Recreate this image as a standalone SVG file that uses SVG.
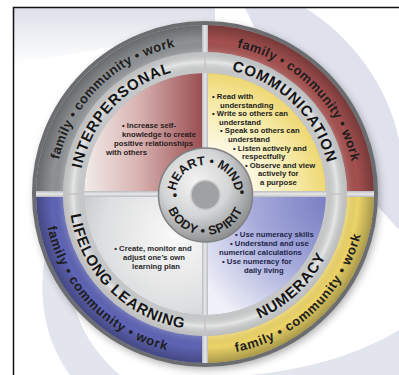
<svg xmlns="http://www.w3.org/2000/svg" width="399" height="375" viewBox="0 0 399 375">
<style>
.band{font-family:"Liberation Sans",Arial,sans-serif;font-weight:bold;font-size:13px;fill:#1e1e1e}
.ring{font-family:"Liberation Sans",Arial,sans-serif;font-weight:bold;font-size:15px;fill:#151515;letter-spacing:0.8px}
.hub{font-family:"Liberation Sans",Arial,sans-serif;font-weight:bold;font-size:12.5px;fill:#1a1a1a}
.q{font-family:"Liberation Sans",Arial,sans-serif;font-weight:bold;font-size:7.7px}
</style>
<defs>
<filter id="sh" x="-20%" y="-20%" width="140%" height="140%"><feGaussianBlur stdDeviation="4"/></filter>
<linearGradient id="bgTop" x1="0" y1="8" x2="0" y2="65" gradientUnits="userSpaceOnUse"><stop offset="0" stop-color="#dde0ea"/><stop offset="1" stop-color="#ffffff"/></linearGradient>
<linearGradient id="gTL" x1="84" y1="0" x2="205" y2="0" gradientUnits="userSpaceOnUse"><stop offset="0" stop-color="#f1ecea"/><stop offset="0.45" stop-color="#d8b3b1"/><stop offset="1" stop-color="#984a4e"/></linearGradient>
<radialGradient id="gTR" cx="205" cy="194" r="121" gradientUnits="userSpaceOnUse"><stop offset="0.35" stop-color="#fdf9e8"/><stop offset="0.75" stop-color="#f6eaa8"/><stop offset="1" stop-color="#eed772"/></radialGradient>
<radialGradient id="gBL" cx="175" cy="235" r="130" gradientUnits="userSpaceOnUse"><stop offset="0" stop-color="#f9f9f9"/><stop offset="0.55" stop-color="#dedfe0"/><stop offset="1" stop-color="#b3b5b8"/></radialGradient>
<radialGradient id="gBR" cx="330" cy="200" r="150" gradientUnits="userSpaceOnUse"><stop offset="0" stop-color="#777dc2"/><stop offset="0.5" stop-color="#a5a9da"/><stop offset="1" stop-color="#eff0f8"/></radialGradient>
<radialGradient id="bandShade" cx="205" cy="194" r="170" gradientUnits="userSpaceOnUse"><stop offset="0.835" stop-color="#ffffff" stop-opacity="0.15"/><stop offset="0.9" stop-color="#000" stop-opacity="0"/><stop offset="1" stop-color="#000" stop-opacity="0.3"/></radialGradient>
<radialGradient id="ringShade" cx="205" cy="194" r="142" gradientUnits="userSpaceOnUse"><stop offset="0.85" stop-color="#000" stop-opacity="0.08"/><stop offset="0.93" stop-color="#fff" stop-opacity="0.3"/><stop offset="1" stop-color="#000" stop-opacity="0.12"/></radialGradient>
<radialGradient id="gHub" cx="196" cy="182" r="62" gradientUnits="userSpaceOnUse"><stop offset="0" stop-color="#f4f4f4"/><stop offset="0.55" stop-color="#d3d4d5"/><stop offset="1" stop-color="#8c8e90"/></radialGradient>
<linearGradient id="dv" x1="0" y1="0" x2="1" y2="0"><stop offset="0" stop-color="#b9bbbe"/><stop offset="0.5" stop-color="#e9e9ea"/><stop offset="1" stop-color="#b9bbbe"/></linearGradient>
<linearGradient id="dh" x1="0" y1="0" x2="0" y2="1"><stop offset="0" stop-color="#b9bbbe"/><stop offset="0.5" stop-color="#e9e9ea"/><stop offset="1" stop-color="#b9bbbe"/></linearGradient>
<path id="pBandTop" d="M55,194 A150,150 0 0 1 355,194"/>
<path id="pBandBot" d="M44,194 A161,161 0 0 0 366,194"/>
<path id="pRingTop" d="M79,194 A126,126 0 0 1 331,194"/>
<path id="pRingBot" d="M69,194 A136,136 0 0 0 341,194"/>
<path id="pHubTop" d="M205.5,225 A30,30 0 1 1 205.5,165 A30,30 0 1 1 205.5,225"/>
<path id="pHubBot" d="M205.5,155 A40,40 0 1 0 205.5,235 A40,40 0 1 0 205.5,155"/>
</defs>

<g id="background">
<rect width="399" height="375" fill="#ffffff"/>
<path d="M14,8 H215 V30 Q120,45 14,64 Z" fill="url(#bgTop)"/>
<path d="M245,8 L305,8 C350,35 388,85 399,140 L399,230 L300,120 Z" fill="#dfe2ec"/>
<path d="M48,240 C34,300 48,345 70,375 L120,375 C80,340 66,300 70,250 Z" fill="#e3e5ee"/>
<path d="M250,375 C320,368 365,350 399,330 L399,375 Z" fill="#e3e5ee"/>
<path d="M13.5,375 V7.5 H399" fill="none" stroke="#111" stroke-width="1.5"/>
</g>

<g id="disc">
<circle cx="207" cy="197" r="172" fill="#000" opacity="0.35" filter="url(#sh)"/>
<circle cx="205" cy="194" r="171" fill="none" stroke="#6b6d70" stroke-width="4"/>
<path d="M36,194 A169,169 0 0 1 205,25 L205,52 A142,142 0 0 0 63,194 Z" fill="#8f9295"/>
<path d="M205,25 A169,169 0 0 1 374,194 L347,194 A142,142 0 0 0 205,52 Z" fill="#a4504f"/>
<path d="M374,194 A169,169 0 0 1 205,363 L205,336 A142,142 0 0 0 347,194 Z" fill="#ecd468"/>
<path d="M205,363 A169,169 0 0 1 36,194 L63,194 A142,142 0 0 0 205,336 Z" fill="#5f64b5"/>
<circle cx="205" cy="194" r="155.5" fill="none" stroke="url(#bandShade)" stroke-width="27"/>
<path d="M205,194 L84,194 A121,121 0 0 1 205,73 Z" fill="url(#gTL)"/>
<path d="M205,194 L205,73 A121,121 0 0 1 326,194 Z" fill="url(#gTR)"/>
<path d="M205,194 L326,194 A121,121 0 0 1 205,315 Z" fill="url(#gBR)"/>
<path d="M205,194 L205,315 A121,121 0 0 1 84,194 Z" fill="url(#gBL)"/>
<rect x="202" y="25" width="6" height="338" fill="url(#dv)"/>
<rect x="36" y="191" width="338" height="6" fill="url(#dh)"/>
<circle cx="205" cy="194" r="131.5" fill="none" stroke="#dadbdc" stroke-width="21"/>
<circle cx="205" cy="194" r="131.5" fill="none" stroke="url(#ringShade)" stroke-width="21"/>
<line x1="205" y1="52" x2="205" y2="73" stroke="#c4c5c7" stroke-width="1.5"/>
<line x1="205" y1="315" x2="205" y2="336" stroke="#c4c5c7" stroke-width="1.5"/>
<line x1="63" y1="194" x2="84" y2="194" stroke="#c4c5c7" stroke-width="1.5"/>
<line x1="326" y1="194" x2="347" y2="194" stroke="#c4c5c7" stroke-width="1.5"/>
</g>

<g id="hub">
<circle cx="205.5" cy="195" r="47" fill="url(#gHub)" stroke="#7f8183" stroke-width="1.5"/>
<circle cx="205.5" cy="195" r="14.5" fill="#9fa1a3" stroke="#c6c7c8" stroke-width="1.5"/>
<text class="hub"><textPath href="#pHubTop" startOffset="50%" text-anchor="middle">HEART • MIND</textPath></text>
<text class="hub" letter-spacing="0.6"><textPath href="#pHubBot" startOffset="50%" text-anchor="middle">BODY • SPIRIT</textPath></text>
<text class="hub" x="175" y="199" text-anchor="middle">•</text>
<text class="hub" x="242" y="196" text-anchor="middle">•</text>
</g>

<g id="interpersonal">
<text class="band" letter-spacing="0.4"><textPath href="#pBandTop" startOffset="25.5%" text-anchor="middle">family • community • work</textPath></text>
<text class="ring"><textPath href="#pRingTop" startOffset="24%" text-anchor="middle">INTERPERSONAL</textPath></text>
<g class="q" fill="#2a1c1c">
<text x="122" y="128">• Increase self-</text>
<text x="122" y="137">knowledge to create</text>
<text x="114" y="146">positive relationships</text>
<text x="106" y="155">with others</text>
</g>
</g>

<g id="communication">
<text class="band" letter-spacing="0.4"><textPath href="#pBandTop" startOffset="75%" text-anchor="middle">family • community • work</textPath></text>
<text class="ring"><textPath href="#pRingTop" startOffset="74.5%" text-anchor="middle">COMMUNICATION</textPath></text>
<g class="q" fill="#1c1c1c">
<text x="212" y="99">• Read with</text>
<text x="220" y="107.6">understanding</text>
<text x="212" y="116.2">• Write so others can</text>
<text x="219" y="124.8">understand</text>
<text x="220" y="133.4">• Speak so others can</text>
<text x="228" y="142">understand</text>
<text x="233" y="150.6">• Listen actively and</text>
<text x="242" y="159.2">respectfully</text>
<text x="245" y="167.8">• Observe and view</text>
<text x="258" y="176.4">actively for</text>
<text x="260" y="185">a purpose</text>
</g>
</g>

<g id="lifelong-learning">
<text class="band" letter-spacing="0.8"><textPath href="#pBandBot" startOffset="24.5%" text-anchor="middle">family • community • work</textPath></text>
<text class="ring"><textPath href="#pRingBot" startOffset="25%" text-anchor="middle">LIFELONG LEARNING</textPath></text>
<g class="q" fill="#2a2a2c" text-anchor="middle">
<text x="153" y="250.5">• Create, monitor and</text>
<text x="154" y="259.5">adjust one’s own</text>
<text x="156" y="268.5">learning plan</text>
</g>
</g>

<g id="numeracy">
<text class="band" letter-spacing="0.8"><textPath href="#pBandBot" startOffset="74%" text-anchor="middle">family • community • work</textPath></text>
<text class="ring"><textPath href="#pRingBot" startOffset="74%" text-anchor="middle">NUMERACY</textPath></text>
<g class="q" fill="#22264a">
<text x="235" y="236.5">• Use numeracy skills</text>
<text x="230" y="245.5">• Understand and use</text>
<text x="219" y="254.5">numerical calculations</text>
<text x="222" y="263.5">• Use numeracy for</text>
<text x="244" y="272.5">daily living</text>
</g>
</g>
</svg>
